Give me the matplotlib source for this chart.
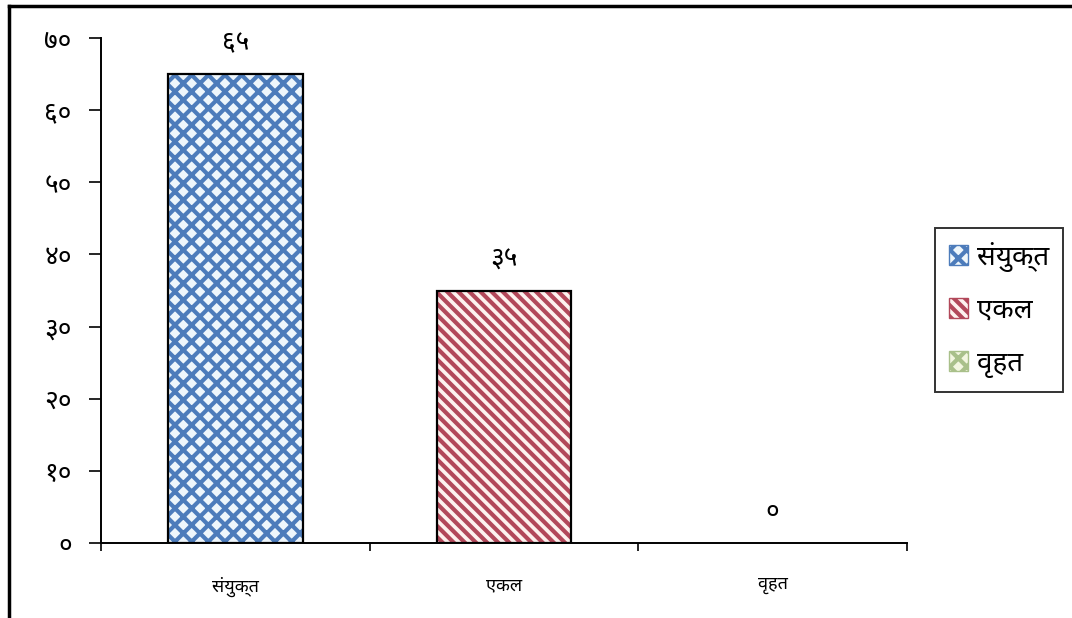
import matplotlib
matplotlib.use('Agg')
import matplotlib.pyplot as plt
from matplotlib.patches import Patch
from matplotlib.lines import Line2D

plt.rcParams['font.family'] = ['Noto Sans', 'DejaVu Sans']
plt.rcParams['hatch.linewidth'] = 3.0

categories = ['संयुक्त', 'एकल', 'वृहत']
values = [65, 35, 0]
value_labels = ['६५', '३५', '०']
yticks = [0, 10, 20, 30, 40, 50, 60, 70]
ytick_labels = ['०', '१०', '२०', '३०', '४०', '५०', '६०', '७०']

face_colors = ['#eef6fb', '#fdf1ee', '#f3f6e0']
hatch_colors = ['#4d7cbb', '#b2485a', '#a9c08a']
hatches = ['xx', '\\\\\\', 'xx']

fig = plt.figure(figsize=(10.72, 6.18), dpi=100)
ax = fig.add_axes([101/1072, 1 - 543/618, (907 - 101)/1072, (543 - 38)/618])

x = list(range(len(categories)))
# hatch first (hatch colour follows edgecolor), then black outline on top
ax.bar(x, values, width=0.5, color=face_colors, edgecolor=hatch_colors,
       hatch=hatches, linewidth=0, zorder=2)
for i, v in enumerate(values):
    if v > 0:
        ax.bar(i, v, width=0.5, fill=False, edgecolor='black', linewidth=1.6, zorder=3)
    ax.text(i, v + 2.4, value_labels[i], ha='center', va='bottom', fontsize=19)

ax.set_xlim(-0.5, 2.5)
ax.set_ylim(0, 70)
ax.set_yticks(yticks)
ax.set_yticklabels(ytick_labels, fontsize=19)
ax.set_xticks([-0.5, 0.5, 1.5, 2.5])
ax.set_xticklabels([])
ax.set_xticks(x, minor=True)
ax.set_xticklabels(categories, minor=True, fontsize=13)
ax.tick_params(axis='x', which='minor', length=0, pad=24)
ax.tick_params(axis='x', which='major', length=6, width=1.2, direction='out')
ax.tick_params(axis='y', length=9, width=1.2, direction='out', pad=12)
for s in ['top', 'right']:
    ax.spines[s].set_visible(False)
for s in ['left', 'bottom']:
    ax.spines[s].set_linewidth(1.4)

handles = [Patch(facecolor=face_colors[i], edgecolor=hatch_colors[i], hatch=hatches[i])
           for i in range(3)]
leg = fig.legend(handles, categories, loc='upper left',
                 bbox_to_anchor=(935/1072, 1 - 228/618), fontsize=20,
                 frameon=True, fancybox=False, edgecolor='black',
                 handlelength=0.7, handleheight=0.7, handletextpad=0.3,
                 labelspacing=0.9, borderpad=0.5, borderaxespad=0)
leg.get_frame().set_linewidth(1.4)

# outer border of the picture
fig.add_artist(Line2D([9/1072, 9/1072], [0, 1 - 6/618], color='black', lw=2.5,
                      transform=fig.transFigure))
fig.add_artist(Line2D([9/1072, 1], [1 - 6/618, 1 - 6/618], color='black', lw=2.5,
                      transform=fig.transFigure))

fig.savefig('out.png', dpi=100)
